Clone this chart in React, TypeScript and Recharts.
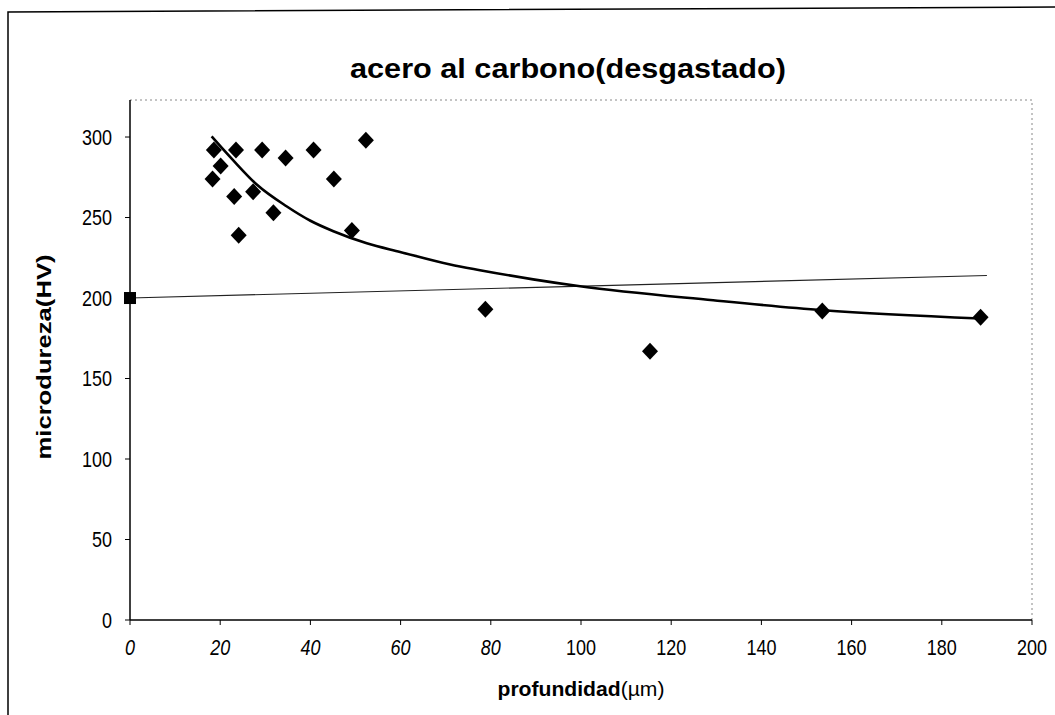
import React from "react";
import {
  ComposedChart, Scatter, Line, XAxis, YAxis, Label, ReferenceLine,
} from "recharts";

// measured points: depth (µm) vs microhardness (HV)
const depth = [18.6, 20.1, 18.3, 23.5, 23.1, 24.1, 29.3, 27.3, 31.8, 34.5, 40.7, 45.2, 49.2, 52.3, 78.8, 115.3, 153.5, 188.6];
const hardness = [292, 282, 274, 292, 263, 239, 292, 266, 253, 287, 292, 274, 242, 298, 193, 167, 192, 188];

// base material value (square marker)
const baseDepth = [0];
const baseHardness = [200];

// thin reference line
const refDepth = [0, 190];
const refHardness = [200, 214];

// trend curve
const trendDepth = [18.1, 22.9, 28.1, 34.7, 40.0, 45.1, 52.5, 59.9, 71.0, 77.6, 89.4, 99.8, 129.3, 153.7, 188.5];
const trendHardness = [300.4, 285.5, 270.5, 257.0, 248.0, 241.5, 234.0, 228.6, 220.8, 217.3, 211.6, 207.3, 198.6, 192.4, 187.3];

const xTicks = [0, 20, 40, 60, 80, 100, 120, 140, 160, 180, 200];
const yTicks = [0, 50, 100, 150, 200, 250, 300];
const Y_MAX = 323;

const FONT = "'Liberation Sans', Arial, sans-serif";

const zip = (xs: number[], ys: number[]) => xs.map((x, i) => ({ x, y: ys[i] }));
const points = zip(depth, hardness);
const basePoints = zip(baseDepth, baseHardness);
const refLine = zip(refDepth, refHardness);
const trend = zip(trendDepth, trendHardness);

function Diamond({ cx, cy }: any) {
  return (
    <polygon
      points={`${cx},${cy - 8.5} ${cx + 8},${cy} ${cx},${cy + 8.5} ${cx - 8},${cy}`}
      fill="#000"
    />
  );
}

function Square({ cx, cy }: any) {
  return <rect x={cx - 6} y={cy - 6} width={12} height={12} fill="#000" />;
}

function XTick({ x, y, payload }: any) {
  return (
    <text
      transform={`translate(${x},${y + 22}) scale(1,1.22)`}
      textAnchor="middle"
      fontFamily={FONT}
      fontSize={18}
      fontStyle={payload.value < 100 ? "italic" : "normal"}
      fill="#000"
    >
      {payload.value}
    </text>
  );
}

function YTick({ x, y, payload }: any) {
  return (
    <text
      transform={`translate(${x},${y + 7.8}) scale(1,1.22)`}
      textAnchor="end"
      fontFamily={FONT}
      fontSize={18}
      fill="#000"
    >
      {payload.value}
    </text>
  );
}

export default function App() {
  return (
    <div style={{ position: "absolute", left: 0, top: 0, width: 1055, height: 715, background: "#fff" }}>
      <svg width={1055} height={715} style={{ position: "absolute", left: 0, top: 0 }}>
        <polyline points="8,715 8,12 1055,7" fill="none" stroke="#000" strokeWidth={1.5} />
        <text
          x={350} y={78}
          textLength={436} lengthAdjust="spacingAndGlyphs"
          fontFamily={FONT} fontSize={27} fontWeight="bold" fill="#000"
        >
          acero al carbono(desgastado)
        </text>
      </svg>
      <div style={{ position: "absolute", left: 0, top: 0 }}>
        <ComposedChart
          width={1055}
          height={715}
          margin={{ top: 100, right: 23, bottom: 35, left: 30 }}
        >
          <XAxis
            dataKey="x" type="number" domain={[0, 200]} ticks={xTicks}
            height={60} tickSize={5} tickMargin={8}
            axisLine={{ stroke: "#000", strokeWidth: 1.5 }}
            tickLine={{ stroke: "#000" }}
            tick={<XTick />}
          >
            <Label
              content={({ viewBox }: any) => (
                <text
                  x={viewBox.x + viewBox.width / 2} y={viewBox.y + 76}
                  textAnchor="middle" textLength={167} lengthAdjust="spacingAndGlyphs"
                  fontFamily={FONT} fontSize={20} fill="#000"
                >
                  <tspan fontWeight="bold">profundidad</tspan>
                  <tspan>(µm)</tspan>
                </text>
              )}
            />
          </XAxis>
          <YAxis
            dataKey="y" type="number" domain={[0, Y_MAX]} ticks={yTicks}
            width={100} tickSize={5} tickMargin={13}
            axisLine={{ stroke: "#000", strokeWidth: 1.5 }}
            tickLine={{ stroke: "#000" }}
            tick={<YTick />}
          >
            <Label
              content={({ viewBox }: any) => {
                const cx = viewBox.x + 14;
                const cy = viewBox.y + viewBox.height / 2 - 3;
                return (
                  <text
                    transform={`translate(${cx},${cy}) rotate(-90)`}
                    textAnchor="middle" dominantBaseline="central"
                    textLength={205} lengthAdjust="spacingAndGlyphs"
                    fontFamily={FONT} fontSize={20} fontWeight="bold" fill="#000"
                  >
                    microdureza(HV)
                  </text>
                );
              }}
            />
          </YAxis>

          {/* dotted plot-area border (top and right) */}
          <ReferenceLine y={Y_MAX} stroke="#888" strokeDasharray="2 3" ifOverflow="extendDomain" />
          <ReferenceLine x={200} stroke="#888" strokeDasharray="2 3" ifOverflow="extendDomain" />

          <Line
            data={refLine} dataKey="y" type="linear"
            stroke="#222" strokeWidth={1.2} dot={false}
            isAnimationActive={false}
          />
          <Line
            data={trend} dataKey="y" type="monotone"
            stroke="#000" strokeWidth={2.6} dot={false}
            isAnimationActive={false}
          />
          <Scatter data={points} dataKey="y" shape={<Diamond />} isAnimationActive={false} />
          <Scatter data={basePoints} dataKey="y" shape={<Square />} isAnimationActive={false} />
        </ComposedChart>
      </div>
    </div>
  );
}
